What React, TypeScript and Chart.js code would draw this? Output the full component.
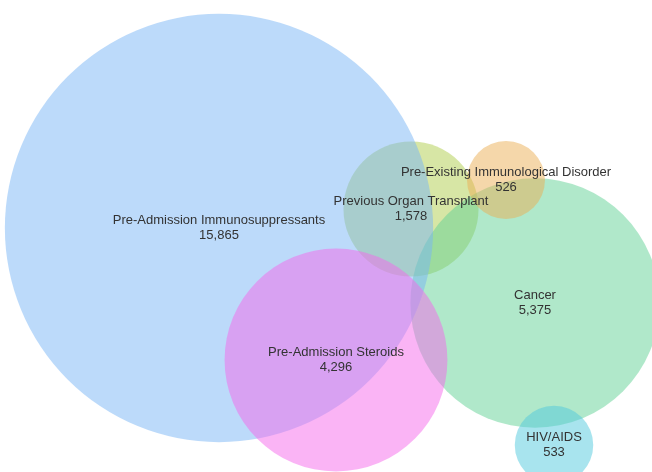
import React, { useEffect, useRef } from "react";
import { Chart, registerables } from "chart.js";

Chart.register(...registerables);

// Categories, listed in drawing order (first drawn at the bottom)
const categories = [
  "Previous Organ Transplant",
  "Cancer",
  "Pre-Admission Immunosuppressants",
  "Pre-Admission Steroids",
  "Pre-Existing Immunological Disorder",
  "HIV/AIDS",
];
const counts = [1578, 5375, 15865, 4296, 526, 533];

// Venn layout centres (layout units)
const layoutX = [411, 535, 219, 336, 506, 554];
const layoutY = [209, 303, 228, 360, 180, 445];

const fillColors = [
  "rgba(175, 205, 75, 0.5)",
  "rgba(97, 209, 149, 0.5)",
  "rgba(121, 181, 245, 0.5)",
  "rgba(245, 105, 235, 0.5)",
  "rgba(235, 175, 85, 0.5)",
  "rgba(81, 201, 221, 0.5)",
];

const RADIUS_K = 1.7;

const labelPlugin = {
  id: "vennLabels",
  afterDatasetsDraw(chart: any) {
    const ctx = chart.ctx;
    const meta = chart.getDatasetMeta(0);
    ctx.save();
    ctx.font = '13px "Liberation Sans", Arial, sans-serif';
    ctx.fillStyle = "#333333";
    ctx.textAlign = "center";
    ctx.textBaseline = "middle";
    meta.data.forEach((el: any, i: number) => {
      const x = el.x;
      const y = el.y;
      ctx.fillText(categories[i], x, y - 7.5);
      ctx.fillText(counts[i].toLocaleString("en-US"), x, y + 7.5);
    });
    ctx.restore();
  },
};

export default function App() {
  const canvasRef = useRef<HTMLCanvasElement | null>(null);

  useEffect(() => {
    if (!canvasRef.current) return;
    const chart = new Chart(canvasRef.current, {
      type: "bubble",
      data: {
        labels: categories,
        datasets: [
          {
            label: "Immunocompromised",
            data: counts.map((v, i) => ({
              x: layoutX[i],
              y: layoutY[i],
              r: RADIUS_K * Math.sqrt(v),
            })),
            backgroundColor: fillColors,
            borderWidth: 0,
            hoverBorderWidth: 0,
            clip: false as any,
          },
        ],
      },
      options: {
        animation: false,
        responsive: false,
        devicePixelRatio: 1,
        events: [],
        layout: { padding: 0, autoPadding: false },
        plugins: {
          legend: { display: false },
          tooltip: { enabled: false },
        },
        scales: {
          x: { type: "linear", min: 0, max: 652, display: false },
          y: { type: "linear", min: 0, max: 472, reverse: true, display: false },
        },
      },
      plugins: [labelPlugin],
    });
    return () => chart.destroy();
  }, []);

  return (
    <div
      style={{
        position: "absolute",
        left: 0,
        top: 0,
        width: 652,
        height: 472,
        background: "#ffffff",
      }}
    >
      <canvas ref={canvasRef} width={652} height={472} />
    </div>
  );
}
